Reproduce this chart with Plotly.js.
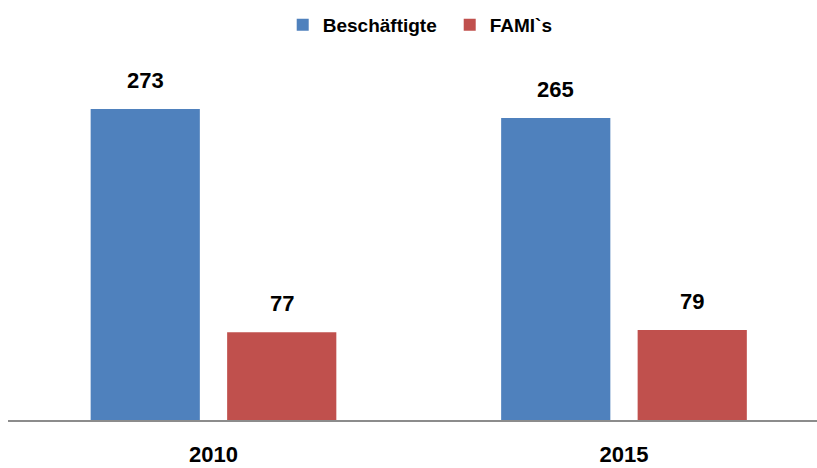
<!DOCTYPE html>
<html>
<head>
<meta charset="utf-8">
<script src="https://cdn.plot.ly/plotly-3.0.1.min.js"></script>
<style>html,body{margin:0;padding:0;background:#fff;}#chart{width:817px;height:468px;}</style>
</head>
<body>
<div id="chart"></div>
<script>
const categories = ['2010', '2015'];
const seriesNames = ['Beschäftigte', 'FAMI`s'];
const beschaeftigte = [273, 265];
const famis = [77, 79];
const seriesValues = [beschaeftigte, famis];
const seriesColors = ['#4F81BD', '#C0504D'];

const FONT = 'Liberation Sans, Arial, sans-serif';

const traces = seriesValues.map((vals, i) => ({
  type: 'bar',
  name: seriesNames[i],
  x: categories,
  y: vals,
  marker: {color: seriesColors[i]},
  hoverinfo: 'x+y+name'
}));

const annotations = [];
seriesValues.forEach((vals, i) => {
  vals.forEach((v, j) => {
    annotations.push({
      x: j, y: v, xref: 'x', yref: 'y',
      text: '<b>' + v + '</b>', showarrow: false,
      xshift: (i === 0 ? -1 : 1) * 68.25,
      yanchor: 'bottom', yshift: 14,
      font: {family: FONT, size: 22, color: '#000'}
    });
  });
});

const layout = {
  width: 817, height: 468,
  margin: {l: 8, r: 0, t: 44, b: 48},
  paper_bgcolor: '#fff', plot_bgcolor: '#fff',
  barmode: 'group', bargap: 0.335, bargroupgap: 0.2,
  showlegend: true,
  legend: {
    orientation: 'h', x: 0.546, xanchor: 'center',
    yref: 'container', y: 1 - 25/468, yanchor: 'middle',
    font: {family: FONT, size: 19, color: '#000', weight: 'bold'},
    itemwidth: 30, traceorder: 'normal', entrywidth: 122
  },
  xaxis: {
    type: 'category', range: [-0.5006, 1.4702],
    showline: true, linecolor: '#8c8c8c', linewidth: 2,
    ticks: '', showgrid: false, zeroline: false,
    ticklabelstandoff: 14,
    tickfont: {family: FONT, size: 22, color: '#000', weight: 'bold'}
  },
  yaxis: {
    range: [0, 376/1.1392], visible: false, showgrid: false, zeroline: false
  },
  annotations: annotations
};

Plotly.newPlot('chart', traces, layout, {displayModeBar: false});
</script>
</body>
</html>
